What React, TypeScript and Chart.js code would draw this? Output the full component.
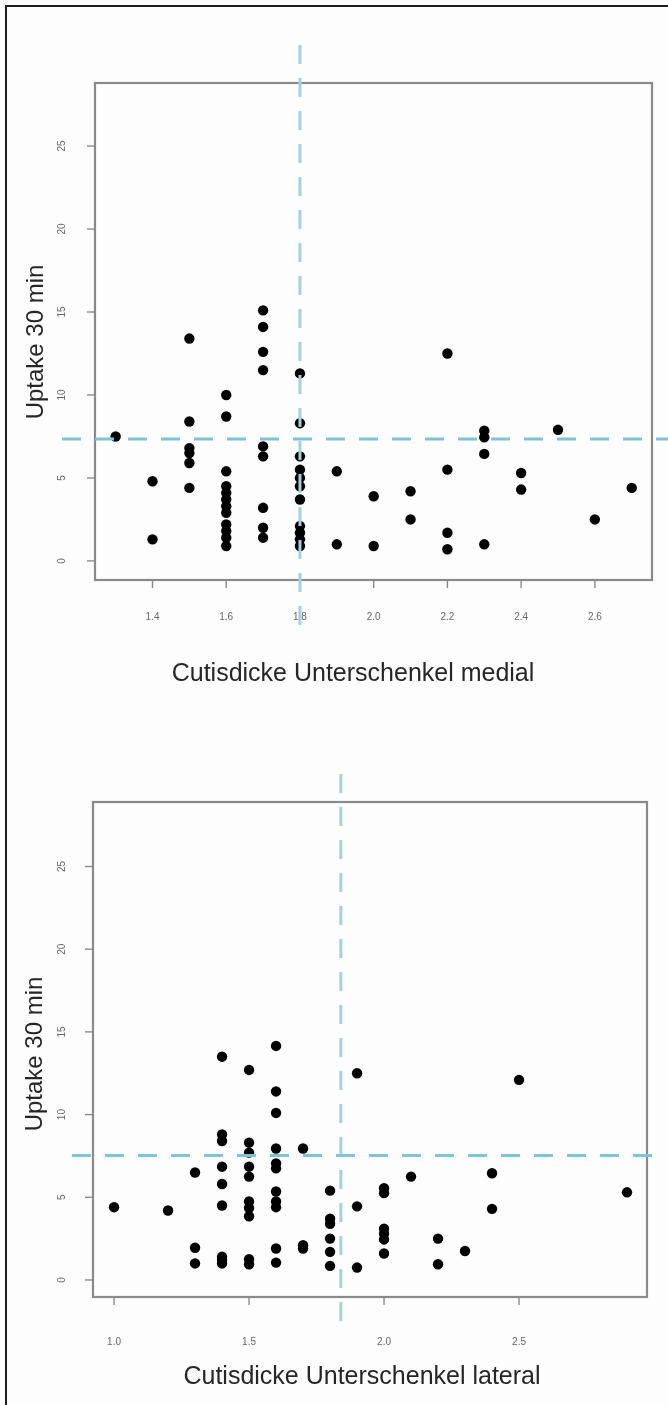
import React, { useEffect, useRef } from "react";
import { Chart, registerables } from "chart.js";

Chart.register(...registerables);

// ---- Data: upper panel (medial) ----
const medialX = [
  1.3,
  1.4, 1.4,
  1.5, 1.5, 1.5, 1.5, 1.5, 1.5,
  1.6, 1.6, 1.6, 1.6, 1.6, 1.6, 1.6, 1.6, 1.6, 1.6, 1.6, 1.6,
  1.7, 1.7, 1.7, 1.7, 1.7, 1.7, 1.7, 1.7, 1.7,
  1.8, 1.8, 1.8, 1.8, 1.8, 1.8, 1.8, 1.8, 1.8, 1.8, 1.8,
  1.9, 1.9,
  2.0, 2.0,
  2.1, 2.1,
  2.2, 2.2, 2.2, 2.2,
  2.3, 2.3, 2.3, 2.3,
  2.4, 2.4,
  2.5,
  2.6,
  2.7,
];
const medialY = [
  7.5,
  4.8, 1.3,
  13.4, 8.4, 6.8, 6.5, 5.9, 4.4,
  10.0, 8.7, 5.4, 4.5, 4.1, 3.7, 3.3, 2.9, 2.2, 1.8, 1.4, 0.9,
  15.1, 14.1, 12.6, 11.5, 6.9, 6.3, 3.2, 2.0, 1.4,
  11.3, 8.3, 6.3, 5.5, 5.0, 4.5, 3.7, 2.1, 1.7, 1.3, 0.9,
  5.4, 1.0,
  3.9, 0.9,
  4.2, 2.5,
  12.5, 5.5, 1.7, 0.7,
  7.85, 7.45, 6.45, 1.0,
  5.3, 4.3,
  7.9,
  2.5,
  4.4,
];

// ---- Data: lower panel (lateral) ----
const lateralX = [
  1.0,
  1.2,
  1.3, 1.3, 1.3,
  1.4, 1.4, 1.4, 1.4, 1.4, 1.4, 1.4, 1.4, 1.4,
  1.5, 1.5, 1.5, 1.5, 1.5, 1.5, 1.5, 1.5, 1.5, 1.5,
  1.6, 1.6, 1.6, 1.6, 1.6, 1.6, 1.6, 1.6, 1.6, 1.6, 1.6,
  1.7, 1.7, 1.7,
  1.8, 1.8, 1.8, 1.8, 1.8, 1.8,
  1.9, 1.9, 1.9,
  2.0, 2.0, 2.0, 2.0, 2.0, 2.0,
  2.1,
  2.2, 2.2,
  2.3,
  2.4, 2.4,
  2.5,
  2.9,
];
const lateralY = [
  4.4,
  4.2,
  6.5, 1.95, 1.0,
  13.5, 8.8, 8.4, 6.85, 5.8, 4.5, 1.4, 1.2, 1.0,
  12.7, 8.3, 7.7, 6.85, 6.25, 4.75, 4.35, 3.85, 1.25, 0.95,
  14.15, 11.4, 10.1, 7.95, 7.05, 6.75, 5.35, 4.75, 4.4, 1.9, 1.05,
  7.95, 2.1, 1.9,
  5.4, 3.7, 3.4, 2.5, 1.7, 0.85,
  12.5, 4.45, 0.75,
  5.55, 5.25, 3.1, 2.8, 2.45, 1.6,
  6.25,
  2.5, 0.95,
  1.75,
  6.45, 4.3,
  12.1,
  5.3,
];

// ---- Axis ticks and reference lines ----
const medialXTicks = [1.4, 1.6, 1.8, 2.0, 2.2, 2.4, 2.6];
const lateralXTicks = [1.0, 1.5, 2.0, 2.5];
const yTickValues = [0, 5, 10, 15, 20, 25];
const medialRef = { h: 7.35, v: 1.8 };
const lateralRef = { h: 7.52, v: 1.84 };
const yTitle = "Uptake 30 min";
const medialTitle = "Cutisdicke Unterschenkel medial";
const lateralTitle = "Cutisdicke Unterschenkel lateral";

const FONT = '"Liberation Sans", Arial, Helvetica, sans-serif';
const H_DASH_COLOR = "#80c2d8";
const V_DASH_COLOR = "#a6d0e0";

type Layout = {
  width: number;
  height: number;
  padTop: number;
  padRight: number;
  yAxisWidth: number;
  xAxisHeight: number;
  xLabelGap: number;
  yLabelGap: number;
  xTitlePos: [number, number];
  yTitlePos: [number, number];
  hSpan: [number, number];
  vSpan: [number, number];
};

type PanelProps = {
  top: number;
  xs: number[];
  ys: number[];
  xRange: [number, number];
  yRange: [number, number];
  xTicks: number[];
  yTicks: number[];
  xTitle: string;
  yTitle: string;
  refLines: { h: number; v: number };
  layout: Layout;
};

function Panel(props: PanelProps) {
  const ref = useRef<HTMLCanvasElement | null>(null);
  useEffect(() => {
    const canvas = ref.current;
    if (!canvas) return;
    const { layout: L } = props;

    const rPlugin = {
      id: "rstyle",
      afterDatasetsDraw(chart: any) {
        const ctx = chart.ctx as CanvasRenderingContext2D;
        const a = chart.chartArea;
        const xs = chart.scales.x;
        const ys = chart.scales.y;
        ctx.save();
        // box
        ctx.strokeStyle = "#8a8a8a";
        ctx.lineWidth = 2.2;
        ctx.strokeRect(a.left, a.top, a.right - a.left, a.bottom - a.top);
        // ticks
        ctx.strokeStyle = "#8a8a8a";
        ctx.lineWidth = 1.4;
        ctx.fillStyle = "#666";
        ctx.font = `10px ${FONT}`;
        ctx.textAlign = "center";
        ctx.textBaseline = "middle";
        props.xTicks.forEach((t) => {
          const px = xs.getPixelForValue(t);
          ctx.beginPath();
          ctx.moveTo(px, a.bottom);
          ctx.lineTo(px, a.bottom + 8);
          ctx.stroke();
          ctx.fillText(t.toFixed(1), px, a.bottom + L.xLabelGap);
        });
        props.yTicks.forEach((t) => {
          const py = ys.getPixelForValue(t);
          ctx.beginPath();
          ctx.moveTo(a.left, py);
          ctx.lineTo(a.left - 8, py);
          ctx.stroke();
          ctx.save();
          ctx.translate(a.left - L.yLabelGap, py);
          ctx.rotate(-Math.PI / 2);
          ctx.fillText(String(t), 0, 0);
          ctx.restore();
        });
        // titles
        ctx.fillStyle = "#262626";
        ctx.font = `25px ${FONT}`;
        ctx.fillText(props.xTitle, L.xTitlePos[0], L.xTitlePos[1]);
        ctx.save();
        ctx.font = `24px ${FONT}`;
        ctx.translate(L.yTitlePos[0], L.yTitlePos[1]);
        ctx.rotate(-Math.PI / 2);
        ctx.fillText(props.yTitle, 0, 0);
        ctx.restore();
        // dashed reference lines
        ctx.lineWidth = 3;
        ctx.setLineDash([19, 14]);
        const vx = xs.getPixelForValue(props.refLines.v);
        ctx.strokeStyle = V_DASH_COLOR;
        ctx.beginPath();
        ctx.moveTo(vx, L.vSpan[0]);
        ctx.lineTo(vx, L.vSpan[1]);
        ctx.stroke();
        const hy = ys.getPixelForValue(props.refLines.h);
        ctx.strokeStyle = H_DASH_COLOR;
        ctx.beginPath();
        ctx.moveTo(L.hSpan[0], hy);
        ctx.lineTo(L.hSpan[1], hy);
        ctx.stroke();
        ctx.restore();
      },
    };

    const chart = new Chart(canvas, {
      type: "scatter",
      data: {
        datasets: [
          {
            data: props.xs.map((x, i) => ({ x, y: props.ys[i] })),
            backgroundColor: "#000",
            borderColor: "#000",
            borderWidth: 0,
            pointRadius: 5.2,
            pointHoverRadius: 5.2,
          },
        ],
      },
      options: {
        responsive: false,
        animation: false,
        devicePixelRatio: 1,
        events: [],
        layout: { padding: { top: L.padTop, right: L.padRight, left: 0, bottom: 0 } },
        plugins: { legend: { display: false }, tooltip: { enabled: false } },
        scales: {
          x: {
            type: "linear",
            position: "bottom",
            min: props.xRange[0],
            max: props.xRange[1],
            bounds: "data",
            grid: { display: false },
            border: { display: false },
            ticks: { display: false },
            afterFit: (s: any) => {
              s.height = L.xAxisHeight;
            },
          },
          y: {
            type: "linear",
            position: "left",
            min: props.yRange[0],
            max: props.yRange[1],
            bounds: "data",
            grid: { display: false },
            border: { display: false },
            ticks: { display: false },
            afterFit: (s: any) => {
              s.width = L.yAxisWidth;
            },
          },
        },
      } as any,
      plugins: [rPlugin],
    });
    return () => chart.destroy();
  }, []);
  const L = props.layout;
  return (
    <canvas
      ref={ref}
      width={L.width}
      height={L.height}
      style={{ position: "absolute", left: 0, top: props.top, width: L.width, height: L.height }}
    />
  );
}

const topLayout: Layout = {
  width: 668,
  height: 700,
  padTop: 83,
  padRight: 16,
  yAxisWidth: 95,
  xAxisHeight: 120,
  xLabelGap: 37,
  yLabelGap: 33,
  xTitlePos: [353, 674],
  yTitlePos: [36, 342],
  hSpan: [62, 668],
  vSpan: [45, 638],
};

const bottomLayout: Layout = {
  width: 668,
  height: 705,
  padTop: 102,
  padRight: 21,
  yAxisWidth: 93,
  xAxisHeight: 108,
  xLabelGap: 45,
  yLabelGap: 31,
  xTitlePos: [362, 677],
  yTitlePos: [35, 354],
  hSpan: [72, 660],
  vSpan: [74, 634],
};

export default function App() {
  return (
    <div
      style={{
        position: "absolute",
        left: 0,
        top: 0,
        width: 668,
        height: 1405,
        overflow: "hidden",
        background: "#fdfdfd",
      }}
    >
      <div
        style={{
          position: "absolute",
          left: 5,
          top: 5,
          width: 720,
          height: 1500,
          border: "2px solid #1e1e1e",
        }}
      />
      <Panel
        top={0}
        xs={medialX}
        ys={medialY}
        xRange={[1.244, 2.755]}
        yRange={[-1.15, 28.8]}
        xTicks={medialXTicks}
        yTicks={yTickValues}
        xTitle={medialTitle}
        yTitle={yTitle}
        refLines={medialRef}
        layout={topLayout}
      />
      <Panel
        top={700}
        xs={lateralX}
        ys={lateralY}
        xRange={[0.922, 2.974]}
        yRange={[-1.03, 28.9]}
        xTicks={lateralXTicks}
        yTicks={yTickValues}
        xTitle={lateralTitle}
        yTitle={yTitle}
        refLines={lateralRef}
        layout={bottomLayout}
      />
    </div>
  );
}
